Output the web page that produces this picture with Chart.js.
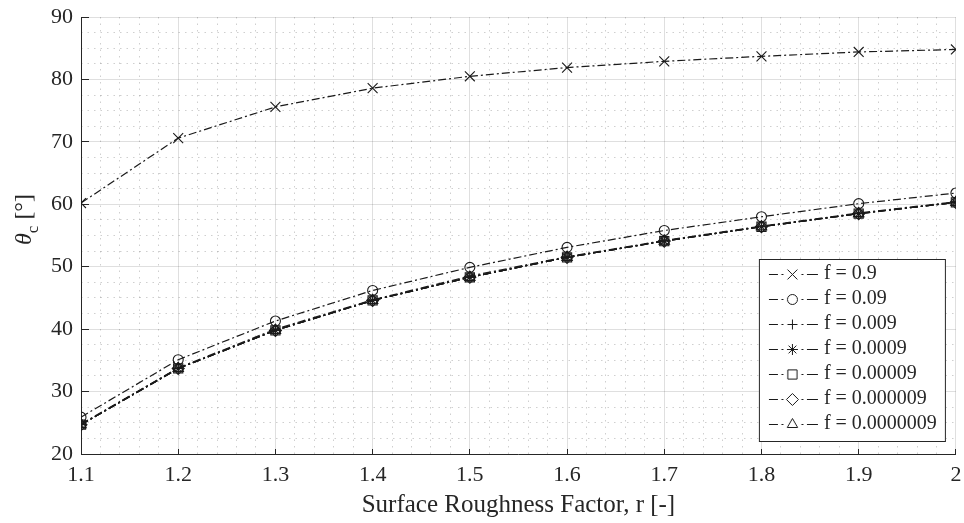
<!DOCTYPE html>
<html>
<head>
<meta charset="utf-8">
<title>Contact angle vs surface roughness</title>
<script src="https://cdn.jsdelivr.net/npm/chart.js@4.4.1/dist/chart.umd.min.js"></script>
<style>
  html, body { margin: 0; padding: 0; background: #fff; }
  canvas { display: block; }
</style>
</head>
<body>
<canvas id="myChart" width="964" height="523"></canvas>
<script>
// x axis: surface roughness factor r
var rValues = [1.1, 1.2, 1.3, 1.4, 1.5, 1.6, 1.7, 1.8, 1.9, 2.0];
var xTickLabels = ["1.1", "1.2", "1.3", "1.4", "1.5", "1.6", "1.7", "1.8", "1.9", "2"];

// contact angle theta_c [deg], one array per f
var theta_f09 = [60.2, 70.6, 75.6, 78.6, 80.5, 81.9, 82.9, 83.7, 84.4, 84.8];
var theta_f009 = [25.9, 35.1, 41.3, 46.2, 49.9, 53.1, 55.8, 58.0, 60.1, 61.8];
var theta_f0009 = [24.8, 33.8, 40.0, 44.7, 48.5, 51.6, 54.2, 56.5, 58.6, 60.4];
var theta_f00009 = [24.7, 33.7, 39.8, 44.6, 48.3, 51.5, 54.1, 56.4, 58.5, 60.3];
var theta_f000009 = [24.7, 33.7, 39.8, 44.6, 48.3, 51.5, 54.1, 56.4, 58.5, 60.3];
var theta_f0000009 = [24.7, 33.7, 39.8, 44.6, 48.3, 51.5, 54.1, 56.4, 58.5, 60.3];
var theta_f00000009 = [24.7, 33.7, 39.8, 44.6, 48.3, 51.5, 54.1, 56.4, 58.5, 60.3];

var seriesLabels = ["f = 0.9", "f = 0.09", "f = 0.009", "f = 0.0009", "f = 0.00009", "f = 0.000009", "f = 0.0000009"];
var seriesValues = [theta_f09, theta_f009, theta_f0009, theta_f00009, theta_f000009, theta_f0000009, theta_f00000009];

// marker look per series
var markers = ["crossRot", "circle", "cross", "star", "rect", "rectRot", "triangle"];
var markerRadius = [7, 5, 5, 5.5, 6.5, 6, 6];

var INK = "#262626";
var LINE = "#1a1a1a";
var FONT = '"Liberation Serif", "Times New Roman", serif';

Chart.defaults.font.family = FONT;

var datasets = seriesValues.map(function (vals, i) {
    return {
        label: seriesLabels[i],
        data: vals.map(function (v, j) { return { x: rValues[j], y: v }; }),
        xAxisID: "x",
        yAxisID: "y",
        borderColor: LINE,
        borderWidth: 1.2,
        borderDash: [8, 3, 2, 3],
        fill: false,
        tension: 0,
        pointStyle: markers[i],
        pointRadius: markerRadius[i],
        pointHoverRadius: markerRadius[i],
        pointBorderColor: LINE,
        pointBackgroundColor: "rgba(0,0,0,0)",
        pointBorderWidth: 1.1
    };
});

// legend sample: dash-dot line with the marker in the middle
function legendIcon(i) {
    var c = document.createElement("canvas");
    c.width = 60;
    c.height = 20;
    var g = c.getContext("2d");
    g.strokeStyle = LINE;
    g.lineWidth = 1;
    g.beginPath();
    g.moveTo(10, 10.5); g.lineTo(19, 10.5);
    g.moveTo(22.5, 10.5); g.lineTo(24.5, 10.5);
    g.moveTo(42.5, 10.5); g.lineTo(44.5, 10.5);
    g.moveTo(48, 10.5); g.lineTo(59, 10.5);
    g.stroke();
    g.fillStyle = "rgba(0,0,0,0)";
    if (Chart.helpers && Chart.helpers.drawPoint) {
        Chart.helpers.drawPoint(g, { pointStyle: markers[i], radius: markerRadius[i], rotation: 0, borderWidth: 1 }, 33.5, 10.5);
    }
    return c;
}

function isMajorX(v) { return Math.abs(v * 10 - Math.round(v * 10)) < 1e-6; }
function isMajorY(v) { return Math.abs(v / 10 - Math.round(v / 10)) < 1e-6; }

// no extra room for overhanging tick labels; layout padding decides the plot area
function noPad(s) {
    s.paddingTop = 0;
    s.paddingBottom = 0;
    s.paddingLeft = 0;
    s.paddingRight = 0;
}

// move the legend into the lower right of the plot and give it a box
var legendBox = {
    id: "legendBox",
    afterLayout: function (chart) {
        var lg = chart.legend;
        var ca = chart.chartArea;
        lg.width = 187;
        lg.height = 183;
        lg.right = ca.right - 10;
        lg.left = lg.right - lg.width;
        lg.bottom = ca.bottom - 12;
        lg.top = lg.bottom - lg.height;
        if (!lg._boxed) {
            var orig = lg.draw;
            lg.draw = function () {
                var ctx = this.ctx;
                ctx.save();
                ctx.fillStyle = "#fff";
                ctx.fillRect(this.left, this.top, this.width, this.height);
                ctx.strokeStyle = INK;
                ctx.lineWidth = 1;
                ctx.strokeRect(this.left + 0.5, this.top + 0.5, this.width - 1, this.height - 1);
                ctx.restore();
                orig.apply(this, arguments);
            };
            lg._boxed = true;
        }
    }
};

// y title: italic theta with subscript c
var yTitle = {
    id: "yTitle",
    afterDraw: function (chart) {
        var ctx = chart.ctx;
        var ca = chart.chartArea;
        ctx.save();
        ctx.translate(22, (ca.top + ca.bottom) / 2 - 16);
        ctx.rotate(-Math.PI / 2);
        ctx.fillStyle = INK;
        ctx.textBaseline = "alphabetic";
        ctx.font = "italic 24px " + FONT;
        var w1 = ctx.measureText("\u03B8").width;
        ctx.font = "17px " + FONT;
        var w2 = ctx.measureText("c").width;
        ctx.font = "24px " + FONT;
        var w3 = ctx.measureText(" [\u00B0]").width;
        var x0 = -(w1 + w2 + w3) / 2;
        ctx.font = "italic 24px " + FONT;
        ctx.fillText("\u03B8", x0, 9);
        ctx.font = "17px " + FONT;
        ctx.fillText("c", x0 + w1, 16);
        ctx.font = "24px " + FONT;
        ctx.fillText(" [\u00B0]", x0 + w1 + w2, 9);
        ctx.restore();
    }
};

var canvas = document.getElementById("myChart");
var myChart = new Chart(canvas, {
    type: "line",
    data: { datasets: datasets },
    plugins: [legendBox, yTitle],
    options: {
        responsive: false,
        animation: false,
        layout: { padding: { top: 17, right: 7, left: 0, bottom: 0 } },
        plugins: {
            title: { display: false },
            tooltip: { enabled: false },
            legend: {
                display: true,
                position: "chartArea",
                align: "start",
                labels: {
                    usePointStyle: true,
                    pointStyleWidth: 50,
                    padding: 5,
                    color: INK,
                    font: { family: FONT, size: 20 },
                    generateLabels: function (chart) {
                        var items = Chart.defaults.plugins.legend.labels.generateLabels(chart);
                        items.forEach(function (it) {
                            it.pointStyle = legendIcon(it.datasetIndex);
                            it.fontColor = INK;
                        });
                        return items;
                    }
                }
            }
        },
        scales: {
            xMinor: {
                type: "linear", position: "bottom", min: 1.1, max: 2, z: -1,
                ticks: { display: false, stepSize: 0.02 },
                grid: {
                    drawTicks: false, lineWidth: 1,
                    color: function (c) { return (c.tick && isMajorX(c.tick.value)) ? "rgba(0,0,0,0)" : "rgba(38,38,38,0.22)"; }
                },
                border: { display: false, dash: [1.5, 5] },
                afterFit: function (s) { s.height = 0; noPad(s); }
            },
            yMinor: {
                type: "linear", position: "left", min: 20, max: 90, z: -1,
                ticks: { display: false, stepSize: 2.5 },
                grid: {
                    drawTicks: false, lineWidth: 1,
                    color: function (c) { return (c.tick && isMajorY(c.tick.value)) ? "rgba(0,0,0,0)" : "rgba(38,38,38,0.22)"; }
                },
                border: { display: false, dash: [1.5, 5] },
                afterFit: function (s) { s.width = 0; noPad(s); }
            },
            x: {
                type: "linear", position: "bottom", min: 1.1, max: 2, z: -1,
                ticks: {
                    stepSize: 0.1, autoSkip: false, maxRotation: 0, padding: 13,
                    color: INK, font: { family: FONT, size: 22 },
                    callback: function (v) { return xTickLabels[Math.round((v - rValues[0]) * 10)]; }
                },
                grid: { color: "rgba(38,38,38,0.15)", lineWidth: 1, drawTicks: true, tickLength: -5, tickColor: INK },
                border: { display: true, color: INK, width: 1 },
                title: {
                    display: true, text: "Surface Roughness Factor, r [-]", color: INK,
                    font: { family: FONT, size: 25 }, padding: { top: 0, bottom: 3 }
                },
                afterFit: function (s) { s.height = 69; noPad(s); }
            },
            y: {
                type: "linear", position: "left", min: 20, max: 90, z: -1,
                ticks: { stepSize: 10, padding: 16, color: INK, font: { family: FONT, size: 22 } },
                grid: { color: "rgba(38,38,38,0.15)", lineWidth: 1, drawTicks: true, tickLength: -8, tickColor: INK },
                border: { display: true, color: INK, width: 1 },
                title: { display: false },
                afterFit: function (s) { s.width = 81; noPad(s); }
            }
        }
    }
});
</script>
</body>
</html>
